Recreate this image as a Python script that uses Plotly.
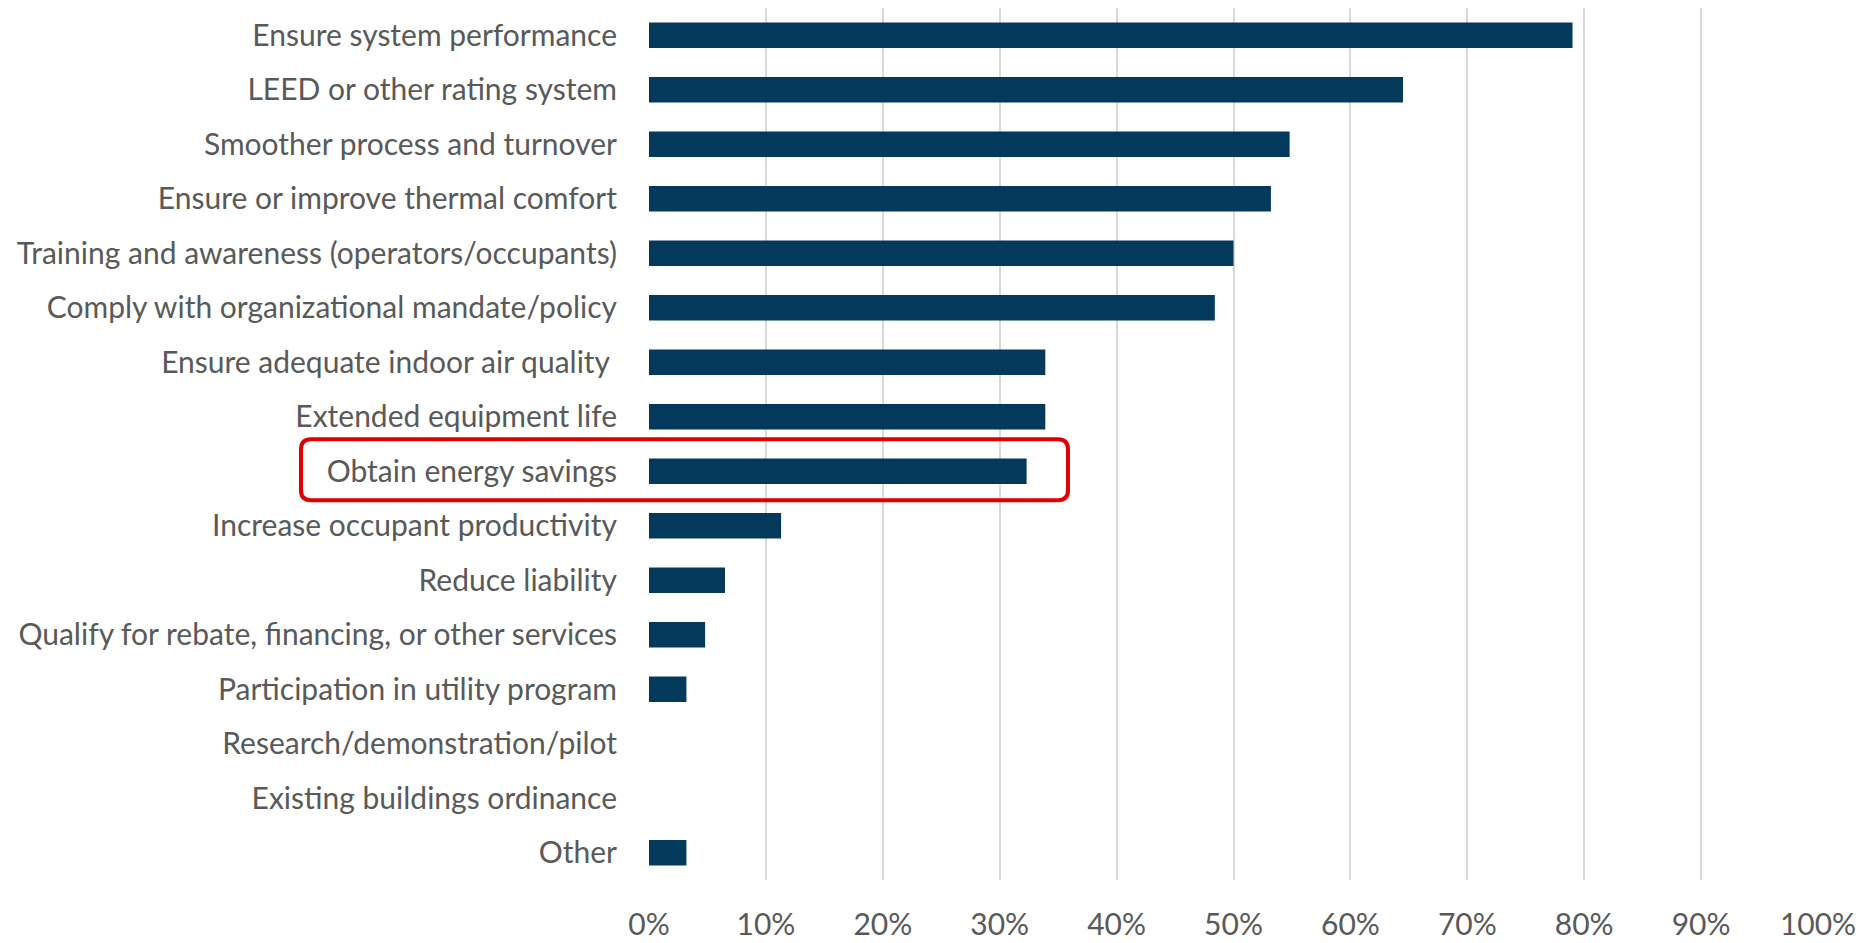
import plotly.graph_objects as go

categories = [
    "Ensure system performance",
    "LEED or other rating system",
    "Smoother process and turnover",
    "Ensure or improve thermal comfort",
    "Training and awareness (operators/occupants)",
    "Comply with organizational mandate/policy",
    "Ensure adequate indoor air quality\u00a0",
    "Extended equipment life",
    "Obtain energy savings",
    "Increase occupant productivity",
    "Reduce liability",
    "Qualify for rebate, financing, or other services",
    "Participation in utility program",
    "Research/demonstration/pilot",
    "Existing buildings ordinance",
    "Other",
]
values = [0.790, 0.645, 0.548, 0.532, 0.500, 0.484, 0.339, 0.339, 0.323,
          0.113, 0.065, 0.048, 0.032, 0.0, 0.0, 0.032]
tick_vals = [i / 10 for i in range(11)]
tick_text = [f"{i * 10}%" for i in range(11)]

FONT = "Lato"
TEXT_COLOR = "#595959"

fig = go.Figure(go.Bar(
    x=values, y=categories, orientation="h",
    marker=dict(color="#03395B", line=dict(width=0)),
    width=0.466,
))

fig.update_layout(
    width=1867, height=935,
    margin=dict(l=641, r=57, t=0, b=63, autoexpand=False),
    paper_bgcolor="white", plot_bgcolor="white",
    showlegend=False,
    font=dict(family=FONT, color=TEXT_COLOR, size=30),
)
fig.update_xaxes(
    range=[0, 1], tickvals=tick_vals, ticktext=tick_text,
    showgrid=True, gridcolor="#d9d9d9", gridwidth=1.5,
    zeroline=False, showline=False, automargin=False,
    tickfont=dict(family=FONT, size=30, color=TEXT_COLOR),
    ticks="", ticklabelstandoff=24,
)
fig.update_yaxes(
    autorange="reversed", showgrid=False, zeroline=False,
    showline=False, automargin=False,
    tickfont=dict(family=FONT, size=30, color=TEXT_COLOR),
    ticks="", ticklabelstandoff=31,
)

# Red rounded highlight box around "Obtain energy savings" (paper coordinates)
x0, x1 = -0.2977, 0.3584
y0, y1 = 0.4355, 0.5054
rx, ry = 0.0086, 0.0115
path = (f"M {x0+rx},{y1} L {x1-rx},{y1} Q {x1},{y1} {x1},{y1-ry} "
        f"L {x1},{y0+ry} Q {x1},{y0} {x1-rx},{y0} "
        f"L {x0+rx},{y0} Q {x0},{y0} {x0},{y0+ry} "
        f"L {x0},{y1-ry} Q {x0},{y1} {x0+rx},{y1} Z")
fig.add_shape(type="path", path=path, xref="paper", yref="paper",
              line=dict(color="#e00000", width=4), layer="above")

fig.write_html("out.html")
